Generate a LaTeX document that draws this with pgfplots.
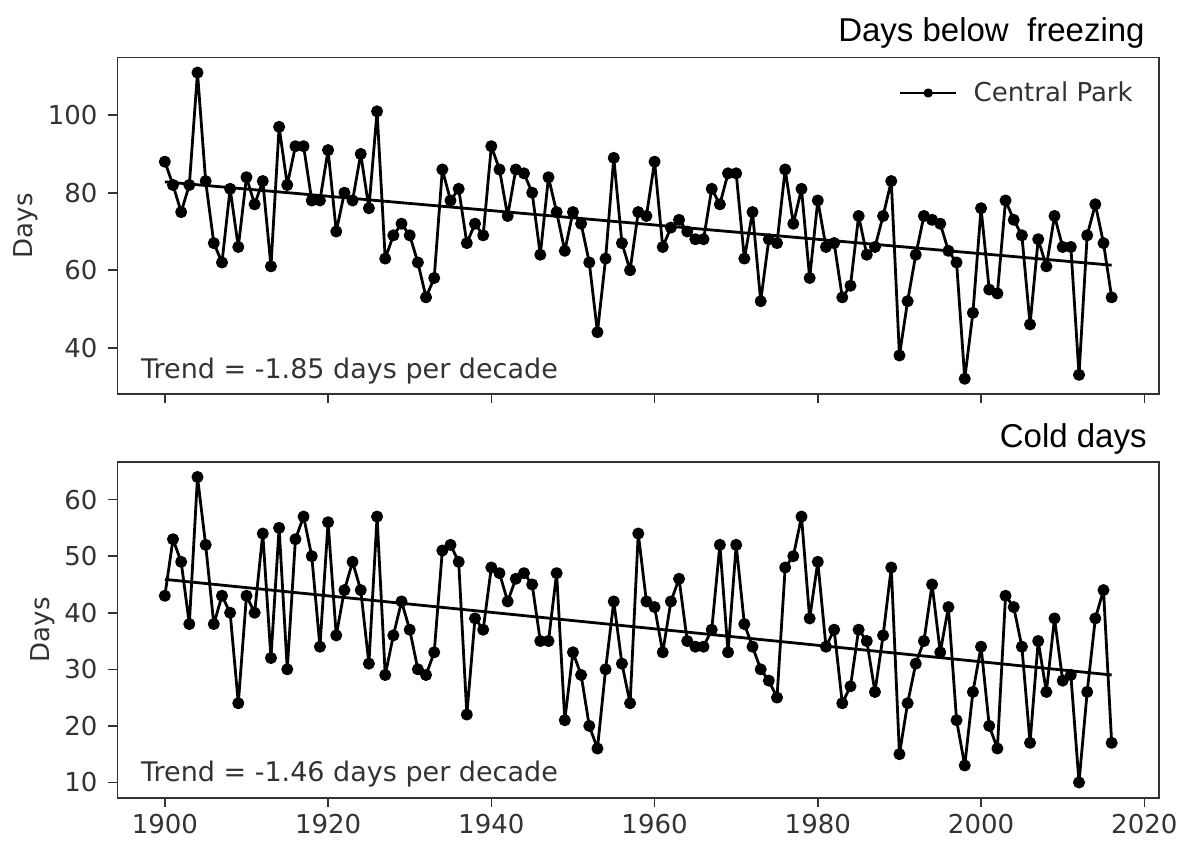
\documentclass[border=0pt]{standalone}
\usepackage{pgfplots}
\pgfplotsset{compat=1.18}
\usepackage{fontspec}
\setmainfont{DejaVu Sans}
\newfontfamily\titlefont{Liberation Sans}
\definecolor{txt}{HTML}{333333}
\newcommand\tfont{\fontsize{13}{15.6}\selectfont}
\newcommand\trfont{\fontsize{13.5}{16}\selectfont}

\pgfplotstableread{
year val
1900 88
1901 82
1902 75
1903 82
1904 111
1905 83
1906 67
1907 62
1908 81
1909 66
1910 84
1911 77
1912 83
1913 61
1914 97
1915 82
1916 92
1917 92
1918 78
1919 78
1920 91
1921 70
1922 80
1923 78
1924 90
1925 76
1926 101
1927 63
1928 69
1929 72
1930 69
1931 62
1932 53
1933 58
1934 86
1935 78
1936 81
1937 67
1938 72
1939 69
1940 92
1941 86
1942 74
1943 86
1944 85
1945 80
1946 64
1947 84
1948 75
1949 65
1950 75
1951 72
1952 62
1953 44
1954 63
1955 89
1956 67
1957 60
1958 75
1959 74
1960 88
1961 66
1962 71
1963 73
1964 70
1965 68
1966 68
1967 81
1968 77
1969 85
1970 85
1971 63
1972 75
1973 52
1974 68
1975 67
1976 86
1977 72
1978 81
1979 58
1980 78
1981 66
1982 67
1983 53
1984 56
1985 74
1986 64
1987 66
1988 74
1989 83
1990 38
1991 52
1992 64
1993 74
1994 73
1995 72
1996 65
1997 62
1998 32
1999 49
2000 76
2001 55
2002 54
2003 78
2004 73
2005 69
2006 46
2007 68
2008 61
2009 74
2010 66
2011 66
2012 33
2013 69
2014 77
2015 67
2016 53
}\freezing

\pgfplotstableread{
year val
1900 43
1901 53
1902 49
1903 38
1904 64
1905 52
1906 38
1907 43
1908 40
1909 24
1910 43
1911 40
1912 54
1913 32
1914 55
1915 30
1916 53
1917 57
1918 50
1919 34
1920 56
1921 36
1922 44
1923 49
1924 44
1925 31
1926 57
1927 29
1928 36
1929 42
1930 37
1931 30
1932 29
1933 33
1934 51
1935 52
1936 49
1937 22
1938 39
1939 37
1940 48
1941 47
1942 42
1943 46
1944 47
1945 45
1946 35
1947 35
1948 47
1949 21
1950 33
1951 29
1952 20
1953 16
1954 30
1955 42
1956 31
1957 24
1958 54
1959 42
1960 41
1961 33
1962 42
1963 46
1964 35
1965 34
1966 34
1967 37
1968 52
1969 33
1970 52
1971 38
1972 34
1973 30
1974 28
1975 25
1976 48
1977 50
1978 57
1979 39
1980 49
1981 34
1982 37
1983 24
1984 27
1985 37
1986 35
1987 26
1988 36
1989 48
1990 15
1991 24
1992 31
1993 35
1994 45
1995 33
1996 41
1997 21
1998 13
1999 26
2000 34
2001 20
2002 16
2003 43
2004 41
2005 34
2006 17
2007 35
2008 26
2009 39
2010 28
2011 29
2012 10
2013 26
2014 39
2015 44
2016 17
}\colddays

\pgfplotsset{
  panel/.style={
    scale only axis,
    width=520.75pt,
    xmin=1894.2, xmax=2021.8,
    xtick={1900,1920,1940,1960,1980,2000,2020},
    tick align=outside, tick pos=left,
    major tick length=4.5pt,
    clip mode=individual,
    axis line style={draw=txt, line width=0.8pt},
    every tick/.style={draw=txt, line width=0.8pt},
    tick label style={font=\tfont, text=txt},
    xticklabel style={/pgf/number format/1000 sep={}},
    yticklabel style={xshift=-2pt},
    /pgf/number format/assume math mode=true,
    label style={font=\tfont, text=txt},
    ylabel={Days},
    ylabel style={yshift=-2pt},
  },
  dataline/.style={black, line width=1.4pt, line join=round, mark=*, mark size=2.3pt, mark options={solid, fill=black}},
  trendline/.style={black, line width=1.4pt, no marks, forget plot},
}

\begin{document}
\begin{tikzpicture}
\useasboundingbox (0pt,0pt) rectangle (592.5pt,-421pt);

\begin{axis}[panel,
  at={(58.75pt,-197pt)}, anchor=south west,
  height=168.35pt,
  ymin=28.05, ymax=114.95,
  ytick={40,60,80,100},
  xticklabels={},
  legend style={draw=none, fill=none, at={(0.979,0.894)}, anchor=east, inner sep=0pt, font=\tfont, text=txt},
  legend cell align=left,
  legend image code/.code={\draw[#1, mark size=1.6pt, mark repeat=2, mark phase=2] plot coordinates {(0pt,0pt) (14pt,0pt) (28pt,0pt)}; \path (34pt,0pt);},
]
\addplot[dataline] table[x=year, y=val] {\freezing};
\addlegendentry{Central Park}
\addplot[trendline] coordinates {(1900,82.8) (2016,61.3)};
\node[anchor=base west, font=\trfont, text=txt, inner sep=0pt, xshift=11.6pt, yshift=8pt] at (rel axis cs:0,0) {Trend = -1.85 days per decade};
\node[anchor=base east, font=\titlefont\fontsize{16.5}{19}\selectfont, inner sep=0pt, xshift=-7pt, yshift=8pt] at (rel axis cs:1,1) {Days below\ \ freezing};
\end{axis}

\begin{axis}[panel,
  at={(58.75pt,-398.85pt)}, anchor=south west,
  height=168pt,
  ymin=7.3, ymax=66.7,
  ytick={10,20,30,40,50,60},
]
\addplot[dataline] table[x=year, y=val] {\colddays};
\addplot[trendline] coordinates {(1900,45.9) (2016,29.0)};
\node[anchor=base west, font=\trfont, text=txt, inner sep=0pt, xshift=11.6pt, yshift=8pt] at (rel axis cs:0,0) {Trend = -1.46 days per decade};
\node[anchor=base east, font=\titlefont\fontsize{16.5}{19}\selectfont, inner sep=0pt, xshift=-6pt, yshift=7pt] at (rel axis cs:1,1) {Cold days};
\end{axis}
\end{tikzpicture}
\end{document}
